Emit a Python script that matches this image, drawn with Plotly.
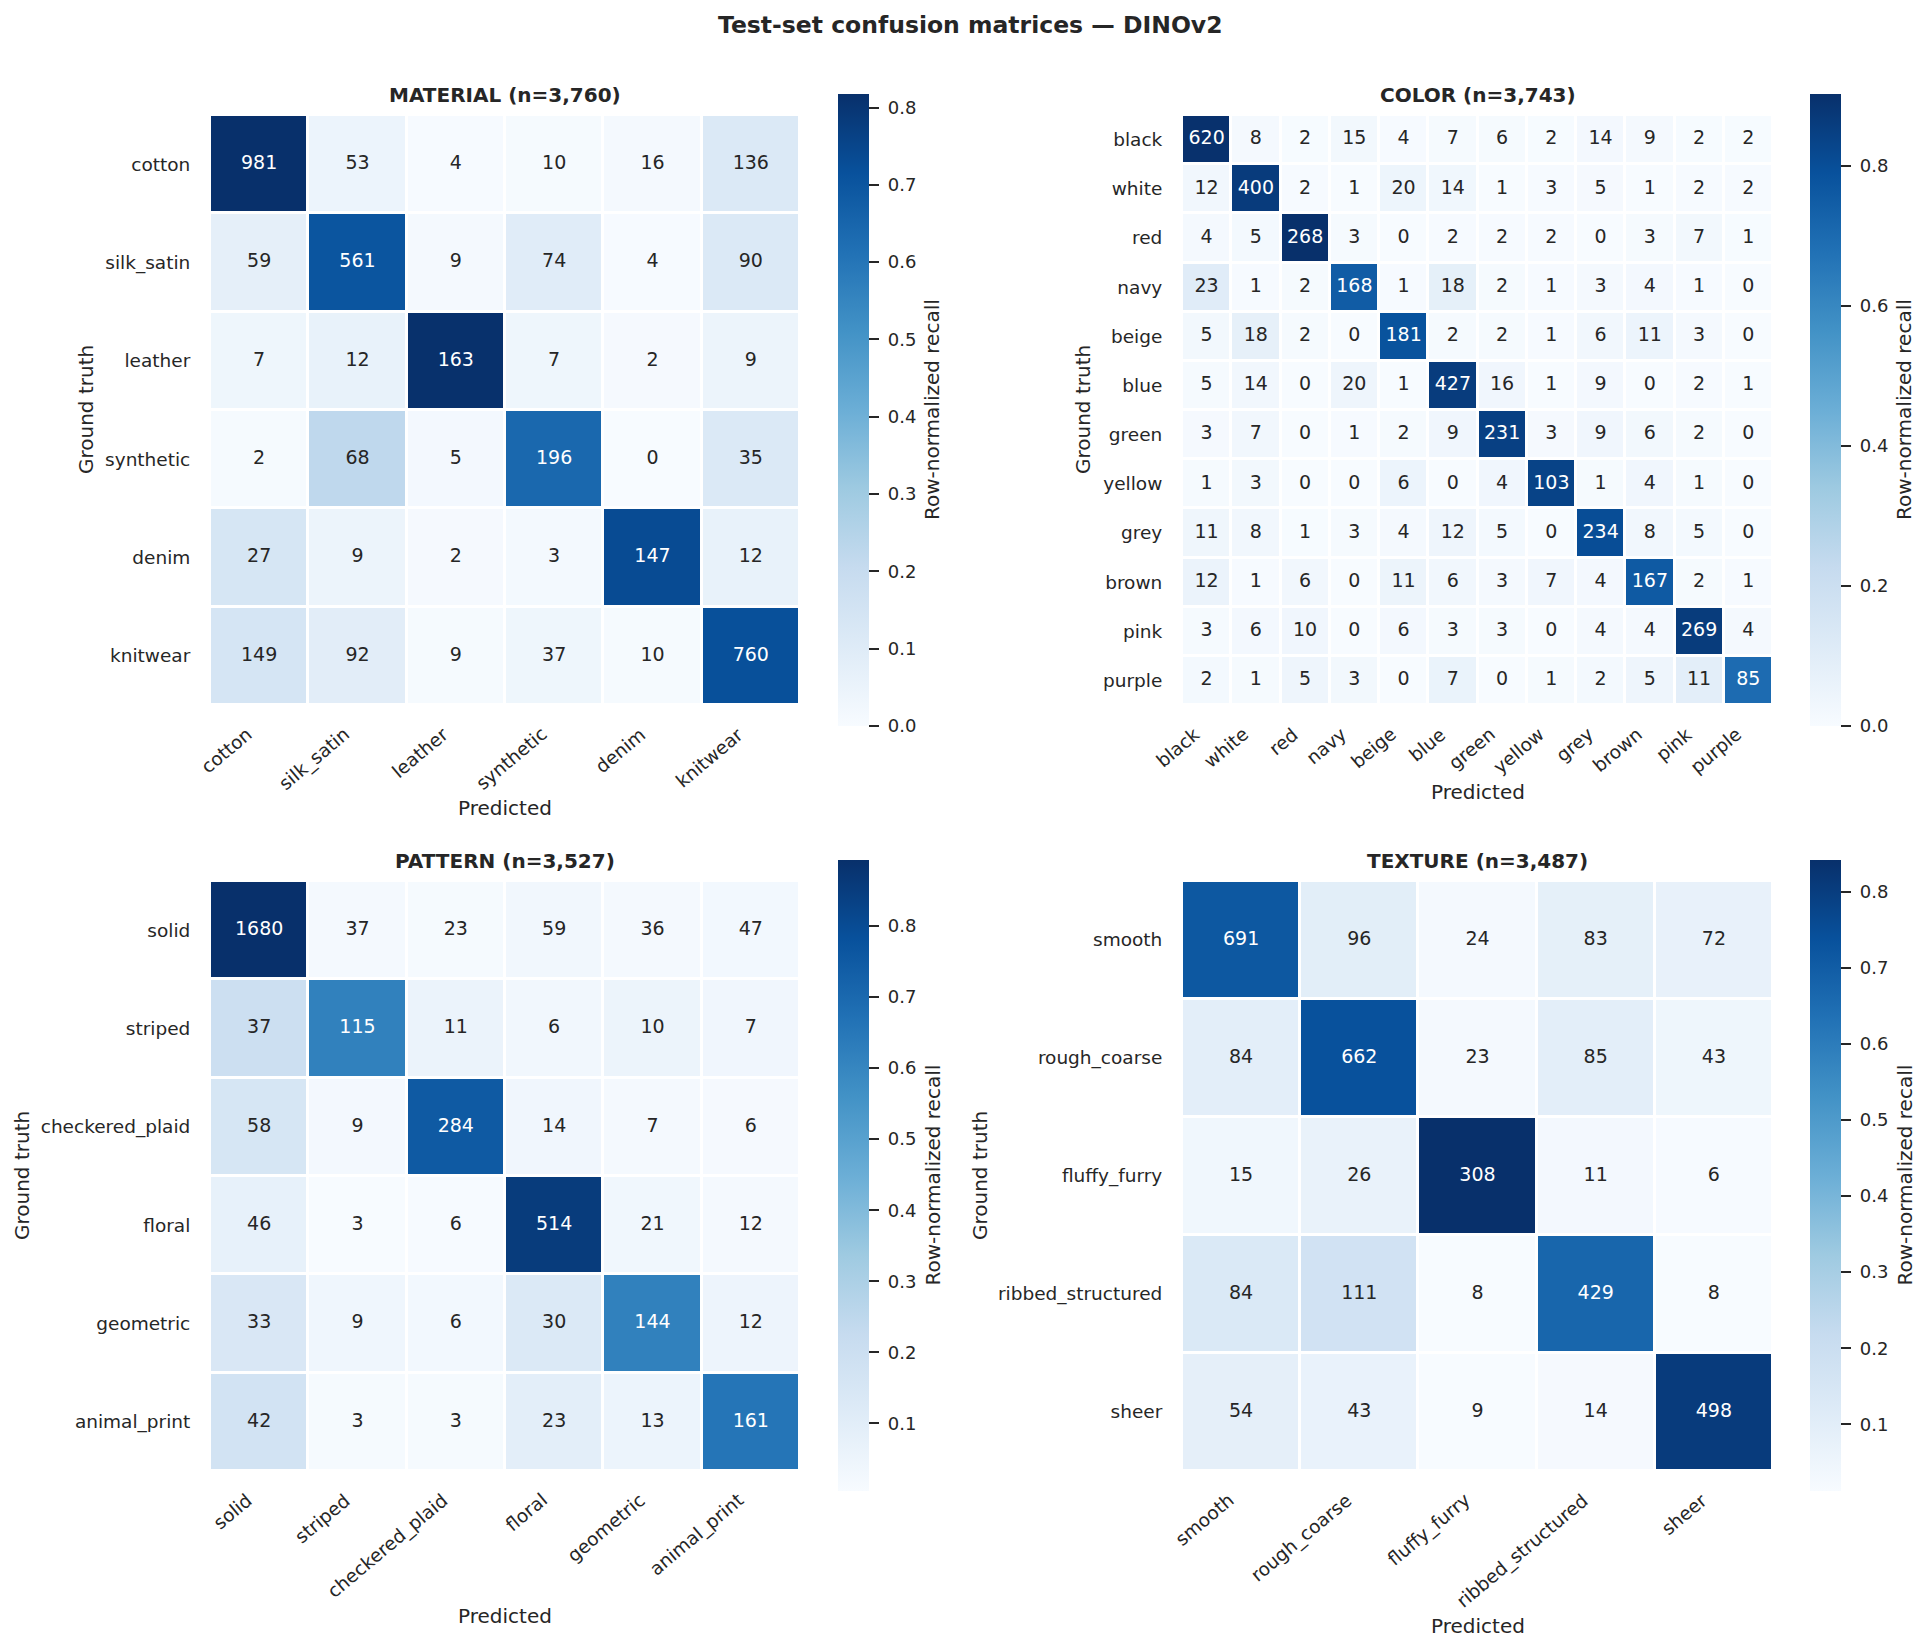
import numpy as np
import plotly.graph_objects as go

# ---------------- data ----------------
material_labels = ["cotton", "silk_satin", "leather", "synthetic", "denim", "knitwear"]
material_counts = [
    [981, 53, 4, 10, 16, 136],
    [59, 561, 9, 74, 4, 90],
    [7, 12, 163, 7, 2, 9],
    [2, 68, 5, 196, 0, 35],
    [27, 9, 2, 3, 147, 12],
    [149, 92, 9, 37, 10, 760],
]

color_labels = ["black", "white", "red", "navy", "beige", "blue", "green",
                "yellow", "grey", "brown", "pink", "purple"]
color_counts = [
    [620, 8, 2, 15, 4, 7, 6, 2, 14, 9, 2, 2],
    [12, 400, 2, 1, 20, 14, 1, 3, 5, 1, 2, 2],
    [4, 5, 268, 3, 0, 2, 2, 2, 0, 3, 7, 1],
    [23, 1, 2, 168, 1, 18, 2, 1, 3, 4, 1, 0],
    [5, 18, 2, 0, 181, 2, 2, 1, 6, 11, 3, 0],
    [5, 14, 0, 20, 1, 427, 16, 1, 9, 0, 2, 1],
    [3, 7, 0, 1, 2, 9, 231, 3, 9, 6, 2, 0],
    [1, 3, 0, 0, 6, 0, 4, 103, 1, 4, 1, 0],
    [11, 8, 1, 3, 4, 12, 5, 0, 234, 8, 5, 0],
    [12, 1, 6, 0, 11, 6, 3, 7, 4, 167, 2, 1],
    [3, 6, 10, 0, 6, 3, 3, 0, 4, 4, 269, 4],
    [2, 1, 5, 3, 0, 7, 0, 1, 2, 5, 11, 85],
]

pattern_labels = ["solid", "striped", "checkered_plaid", "floral", "geometric", "animal_print"]
pattern_counts = [
    [1680, 37, 23, 59, 36, 47],
    [37, 115, 11, 6, 10, 7],
    [58, 9, 284, 14, 7, 6],
    [46, 3, 6, 514, 21, 12],
    [33, 9, 6, 30, 144, 12],
    [42, 3, 3, 23, 13, 161],
]

texture_labels = ["smooth", "rough_coarse", "fluffy_furry", "ribbed_structured", "sheer"]
texture_counts = [
    [691, 96, 24, 83, 72],
    [84, 662, 23, 85, 43],
    [15, 26, 308, 11, 6],
    [84, 111, 8, 429, 8],
    [54, 43, 9, 14, 498],
]

suptitle = "Test-set confusion matrices \u2014 DINOv2"

# ---------------- style ----------------
W, H = 1930, 1651
FONT = "DejaVu Sans"
DARK = "#262626"
BLUES_HEX = ["#f7fbff", "#deebf7", "#c6dbef", "#9ecae1", "#6baed6",
             "#4292c6", "#2171b5", "#08519c", "#08306b"]
BLUES_RGB = np.array([[int(h[i:i + 2], 16) for i in (1, 3, 5)] for h in BLUES_HEX]) / 255.0
colorscale = [[i / 8, h] for i, h in enumerate(BLUES_HEX)]


def blues(t):
    t = float(np.clip(t, 0, 1)) * 8
    i = min(int(np.floor(t)), 7)
    f = t - i
    return BLUES_RGB[i] * (1 - f) + BLUES_RGB[i + 1] * f


def rel_lum(rgb):
    c = np.where(rgb <= 0.03928, rgb / 12.92, ((rgb + 0.055) / 1.055) ** 2.4)
    return 0.2126 * c[0] + 0.7152 * c[1] + 0.0722 * c[2]


def fx(p):
    return p / W


def fy(p):
    return 1 - p / H


panels = [
    dict(name="MATERIAL", labels=material_labels, counts=material_counts,
         hm=(210, 800, 115, 705), cb=(838, 94, 726), dtick=0.1,
         title_y=95, xlab_y=808, ylab_x=86, cblab_x=932),
    dict(name="COLOR", labels=color_labels, counts=color_counts,
         hm=(1182, 1773, 115, 705), cb=(1810, 94, 726), dtick=0.2,
         title_y=95, xlab_y=792, ylab_x=1083, cblab_x=1904),
    dict(name="PATTERN", labels=pattern_labels, counts=pattern_counts,
         hm=(210, 800, 881, 1471), cb=(838, 860, 1491), dtick=0.1,
         title_y=861, xlab_y=1616, ylab_x=22, cblab_x=932),
    dict(name="TEXTURE", labels=texture_labels, counts=texture_counts,
         hm=(1182, 1773, 881, 1471), cb=(1810, 860, 1491), dtick=0.1,
         title_y=861, xlab_y=1626, ylab_x=980, cblab_x=1904),
]

fig = go.Figure()
annotations = []
layout_axes = {}

for k, p in enumerate(panels, start=1):
    labels = p["labels"]
    counts = np.array(p["counts"], dtype=float)
    norm = counts / counts.sum(axis=1, keepdims=True)
    zmin, zmax = norm.min(), norm.max()
    n = len(labels)
    xa = "x" if k == 1 else f"x{k}"
    ya = "y" if k == 1 else f"y{k}"
    x0, x1, y0, y1 = p["hm"]
    cx, cy0, cy1 = p["cb"]

    fig.add_trace(go.Heatmap(
        z=norm, x=labels, y=labels, xaxis=xa, yaxis=ya,
        colorscale=colorscale, zmin=zmin, zmax=zmax,
        xgap=3, ygap=3, hoverinfo="skip",
        colorbar=dict(
            x=fx(cx), xanchor="left", y=fy(cy0), yanchor="top",
            len=cy1 - cy0, lenmode="pixels", thickness=31, thicknessmode="pixels",
            xpad=0, ypad=0, outlinewidth=0,
            tick0=0, dtick=p["dtick"], tickformat=".1f", tickprefix="\u00a0",
            ticks="outside", ticklen=10, tickwidth=1.6, tickcolor=DARK,
            tickfont=dict(family=FONT, size=18, color=DARK),
        ),
    ))

    # cell counts, text colour chosen from cell luminance
    tx, ty, tt, tc = [], [], [], []
    for i in range(n):
        for j in range(n):
            tx.append(labels[j])
            ty.append(labels[i])
            tt.append(str(int(counts[i, j])))
            t = (norm[i, j] - zmin) / (zmax - zmin)
            tc.append(DARK if rel_lum(blues(t)) > 0.408 else "white")
    fig.add_trace(go.Scatter(
        x=tx, y=ty, xaxis=xa, yaxis=ya, mode="text", text=tt,
        textposition="middle center",
        textfont=dict(family=FONT, size=19, color=tc),
        hoverinfo="skip", showlegend=False,
    ))

    axn = "xaxis" if k == 1 else f"xaxis{k}"
    ayn = "yaxis" if k == 1 else f"yaxis{k}"
    layout_axes[axn] = dict(
        domain=[fx(x0), fx(x1)], anchor=ya, type="category",
        categoryorder="array", categoryarray=labels, automargin=False,
        range=[-0.5, n - 0.5], showgrid=False, zeroline=False, showline=False,
        showticklabels=False, ticks="",
    )
    layout_axes[ayn] = dict(
        domain=[fy(y1), fy(y0)], anchor=xa, type="category",
        categoryorder="array", categoryarray=labels, automargin=False,
        range=[n - 0.5, -0.5], showgrid=False, zeroline=False, showline=False,
        ticks="outside", ticklen=15, tickcolor="rgba(0,0,0,0)",
        tickfont=dict(family=FONT, size=18.5, color=DARK),
    )

    # rotated x tick labels (right-aligned bounding box at tick, like ha="right")
    for lab in labels:
        annotations.append(dict(
            text=lab, x=lab, xref=xa, y=fy(y1 + 17), yref="paper",
            xanchor="right", yanchor="top", textangle=-40, showarrow=False,
            xshift=-2, borderpad=0,
            font=dict(family=FONT, size=18.5, color=DARK)))

    total = int(counts.sum())
    annotations.append(dict(
        text=f"<b>{p['name']} (n={total:,})</b>", x=fx((x0 + x1) / 2), y=fy(p["title_y"]),
        xref="paper", yref="paper", xanchor="center", yanchor="middle", showarrow=False,
        font=dict(family=FONT, size=20, color=DARK)))
    annotations.append(dict(
        text="Predicted", x=fx((x0 + x1) / 2), y=fy(p["xlab_y"]),
        xref="paper", yref="paper", xanchor="center", yanchor="middle", showarrow=False,
        font=dict(family=FONT, size=20, color=DARK)))
    annotations.append(dict(
        text="Ground truth", x=fx(p["ylab_x"]), y=fy((y0 + y1) / 2), textangle=-90,
        xref="paper", yref="paper", xanchor="center", yanchor="middle", showarrow=False,
        font=dict(family=FONT, size=20, color=DARK)))
    annotations.append(dict(
        text="Row-normalized recall", x=fx(p["cblab_x"]), y=fy((cy0 + cy1) / 2), textangle=-90,
        xref="paper", yref="paper", xanchor="center", yanchor="middle", showarrow=False,
        font=dict(family=FONT, size=20, color=DARK)))

annotations.append(dict(
    text=f"<b>{suptitle}</b>", x=fx(970), y=fy(25), xref="paper", yref="paper",
    xanchor="center", yanchor="middle", showarrow=False,
    font=dict(family=FONT, size=23.5, color=DARK)))

fig.update_layout(
    width=W, height=H, margin=dict(l=0, r=0, t=0, b=0, autoexpand=False),
    paper_bgcolor="white", plot_bgcolor="white",
    showlegend=False, annotations=annotations,
    font=dict(family=FONT, color=DARK),
    **layout_axes,
)

fig.write_html("out.html")
